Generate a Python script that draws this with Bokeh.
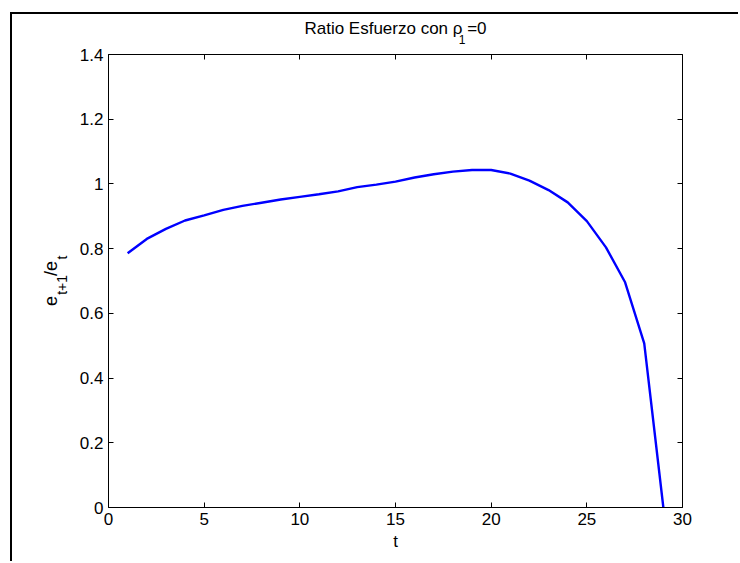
from bokeh.plotting import figure
from bokeh.models import Range1d, LinearAxis, FixedTicker
from bokeh.embed import file_html
from bokeh.resources import INLINE

t = list(range(1, 30))
ratio = [0.786, 0.830, 0.861, 0.887, 0.903, 0.920, 0.932, 0.942, 0.952, 0.960,
         0.968, 0.977, 0.990, 0.998, 1.007, 1.020, 1.030, 1.038, 1.043, 1.043,
         1.032, 1.010, 0.981, 0.943, 0.885, 0.804, 0.696, 0.507, 0.0]
x_ticks = [0, 5, 10, 15, 20, 25, 30]
y_ticks = [0, 0.2, 0.4, 0.6, 0.8, 1.0, 1.2, 1.4]
y_tick_labels = {0: "0", 0.2: "0.2", 0.4: "0.4", 0.6: "0.6", 0.8: "0.8", 1.0: "1", 1.2: "1.2", 1.4: "1.4"}

FONT = "Liberation Sans"
FS = "17px"
NB = "\u00a0"

# title "Ratio Esfuerzo con rho_1=0" : main line and subscript line
title_main = "Ratio Esfuerzo con \u03c1" + NB + "=0"
title_sub = NB * 47 + "1" + NB * 7
# y label "e_{t+1}/e_t" : main line and subscript line
ylab_main = "e" + NB * 4 + "/e" + NB
ylab_sub = NB * 3 + "t+1" + NB * 4 + "t"

p = figure(width=728, height=549, output_backend="svg", toolbar_location=None,
           x_range=Range1d(0, 30), y_range=Range1d(0, 1.4),
           min_border_left=96, min_border_right=58, min_border_top=40, min_border_bottom=56,
           x_axis_location=None, y_axis_location=None)
p.styles = {"margin-left": "12px", "margin-top": "14px", "overflow": "hidden",
            "box-shadow": "-2px -2px 0 0 #000000"}
p.background_fill_color = "white"
p.border_fill_color = "white"
p.outline_line_color = None
p.xgrid.visible = False
p.ygrid.visible = False
p.title.text = ""
p.title.visible = False

def style_axis(ax, labels=True):
    ax.axis_line_color = "black"
    ax.axis_line_width = 1
    ax.major_tick_line_color = "black"
    ax.major_tick_in = 5
    ax.major_tick_out = 0
    ax.minor_tick_line_color = None
    ax.major_label_text_font = FONT
    ax.major_label_text_font_size = FS
    ax.major_label_text_color = "black"
    ax.axis_label_text_font = FONT
    ax.axis_label_text_font_size = FS
    ax.axis_label_text_font_style = "normal"
    ax.axis_label_text_color = "black"
    if not labels:
        ax.major_label_text_font_size = "0px"
        ax.major_label_text_color = None

def text_axis(label, size, standoff):
    ax = LinearAxis(ticker=FixedTicker(ticks=[]), axis_label=label)
    ax.axis_line_color = None
    ax.major_tick_line_color = None
    ax.minor_tick_line_color = None
    ax.major_label_text_font_size = "0px"
    ax.axis_label_text_font = FONT
    ax.axis_label_text_font_size = size
    ax.axis_label_text_font_style = "normal"
    ax.axis_label_text_color = "black"
    ax.axis_label_standoff = standoff
    return ax

xb = LinearAxis(ticker=FixedTicker(ticks=x_ticks), axis_label="t")
style_axis(xb)
xb.major_label_standoff = 5
xb.axis_label_standoff = 4
p.add_layout(xb, "below")

yl = LinearAxis(ticker=FixedTicker(ticks=y_ticks))
style_axis(yl)
yl.major_label_overrides = y_tick_labels
yl.major_label_standoff = 5
p.add_layout(yl, "left")
p.add_layout(text_axis(ylab_sub, "14px", 7), "left")
p.add_layout(text_axis(ylab_main, "18px", -10), "left")

xa = LinearAxis(ticker=FixedTicker(ticks=x_ticks))
style_axis(xa, labels=False)
p.add_layout(xa, "above")
p.add_layout(text_axis(title_sub, "12px", 8), "above")
p.add_layout(text_axis(title_main, FS, -8), "above")

yr = LinearAxis(ticker=FixedTicker(ticks=y_ticks))
style_axis(yr, labels=False)
p.add_layout(yr, "right")

p.line(t, ratio, line_color="#0000ff", line_width=2.4)

open("out.html", "w").write(file_html(p, INLINE))
